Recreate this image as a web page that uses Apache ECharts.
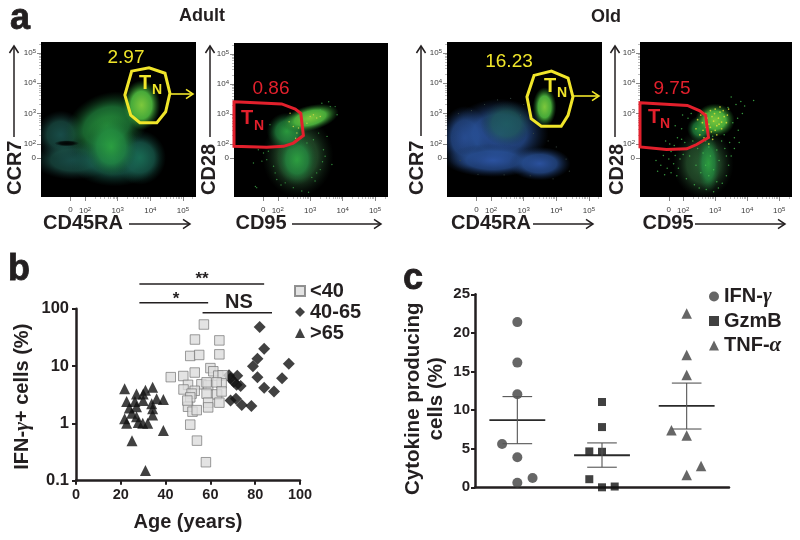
<!DOCTYPE html>
<html><head><meta charset="utf-8">
<style>html,body{margin:0;padding:0;background:#fff}#c{width:800px;height:540px}</style>
<script src="https://cdn.jsdelivr.net/npm/echarts@6/dist/echarts.min.js"></script>
</head><body><div id="c"></div>
<script>
// ---- panel a: flow plots, values in log10 display units (x, y, spreadX, spreadY, level, angle)
const flowMin = [0.65, 0.25], flowMax = [5.4, 5.36];
const flowTicks = [2, 3, 4, 5];
const zeroX = 1.55, zeroY = 1.54;
const cloudsA1 = [
 [1.25,2.3,0.75,0.8,0.45,0],[1.64,1.47,1.25,0.65,0.45,0],[2.9,1.5,1.4,0.9,0.6,0],[3.68,1.55,0.8,0.9,0.6,0],
 [2.66,2.6,1.35,1.05,0.85,25],[2.8,1.9,0.8,1.0,0.7,0],[3.73,3.28,0.58,0.82,1,0]];
const darkA1 = [[1.44,2.02,0.38,0.1,0,0]];
const cloudsA2 = [[2.62,1.6,1.1,1.35,0.3,0],[2.59,1.49,0.62,0.85,0.75,0],[2.28,2.43,0.62,0.62,0.85,0],[3.0,2.87,0.9,0.42,1,14]];
const cloudsA3 = [[1.2,2.2,0.75,1.05,0.2,0],[2.26,2.34,1.5,1.15,0.22,0],[2.06,1.46,1.5,0.55,0.2,0],[3.49,1.35,0.95,0.55,0.2,0],[2.47,2.67,0.8,0.75,0.5,0],[3.64,3.22,0.36,0.65,1,0]];
const cloudsA4 = [[2.63,1.35,0.95,1.15,0.3,0],[2.79,1.35,0.36,0.95,0.8,0],[2.52,2.5,0.4,0.42,0.85,0],[2.99,2.78,0.62,0.55,1,0]];
const gateA1 = [[3.43,4.40],[3.96,4.51],[4.45,4.33],[4.60,3.67],[4.47,3.06],[4.20,2.70],[3.68,2.70],[3.40,2.95],[3.22,3.61]];
const gateA2 = [[0.65,3.41],[2.12,3.34],[2.54,3.17],[2.71,3.03],[2.79,2.29],[2.48,2.04],[2.18,1.93],[1.66,1.90],[0.65,1.93]];
const gateA3 = [[3.32,4.26],[3.85,4.40],[4.36,4.17],[4.51,3.55],[4.36,2.94],[4.15,2.58],[3.54,2.58],[3.23,2.83],[3.10,3.55]];
const gateA4 = [[0.65,3.36],[2.13,3.27],[2.52,3.09],[2.70,2.94],[2.79,2.21],[2.42,1.98],[2.11,1.84],[1.48,1.82],[0.65,1.90]];
const specksGreenA2 = [[1.25,1.38],[1.35,0.56],[1.40,1.82],[1.56,1.71],[1.71,1.77],[1.66,1.49],[1.51,1.44],[1.97,0.83],[2.23,0.72],[2.48,0.56],[2.74,0.45],[2.95,0.41],[3.15,0.78],[3.31,1.16],[3.46,1.60],[3.67,1.33],[3.41,1.82],[3.10,2.15],[2.90,2.04],[3.31,3.14],[3.62,3.25],[3.77,3.25],[3.83,2.98],[3.57,3.41],[3.36,3.36],[1.76,2.65],[1.92,1.05],[1.87,1.27],[3.2,1.05],[3.26,2.37],[3.52,2.26],[1.31,0.6],[2.1,0.65],[3.05,0.9],[3.38,1.42]];
const specksYellowA2 = [[3.0,2.92],[3.2,2.87],[2.74,2.81],[2.48,2.59],[2.38,3.03],[2.59,2.37],[2.79,2.54],[3.1,2.98],[3.31,2.92],[2.64,2.54],[2.9,2.7],[2.55,2.2],[2.35,2.75]];
const specksGreenA4 = [[1.2,1.1],[1.3,1.3],[1.15,1.45],[1.42,0.98],[1.5,1.2],[1.38,1.62],[1.55,1.5],[1.62,1.05],[1.7,1.35],[1.48,1.8],[1.62,1.75],[1.75,1.62],[1.85,1.2],[1.9,1.5],[1.58,2.0],[1.72,1.95],[1.88,1.82],[1.8,0.95],[2.0,1.65],[1.45,2.1],[1.82,2.2],[1.95,2.15],[2.05,2.05],[1.95,2.5],[1.75,2.6],[1.98,2.95],[2.15,2.85],[2.25,3.0],[2.1,0.85],[2.35,0.65],[2.5,0.55],[2.72,0.5],[2.95,0.42],[3.1,0.55],[3.22,0.7],[3.35,0.95],[3.42,1.3],[3.5,1.6],[3.3,1.85],[3.45,2.05],[3.6,2.2],[3.72,2.45],[3.55,2.7],[3.7,2.85],[3.85,3.0],[3.92,3.25],[3.65,3.3],[3.5,3.55],[3.8,3.4],[4.2,3.43],[3.4,3.2],[2.8,1.9],[2.7,2.1],[2.92,2.25],[2.85,1.6],[2.7,1.3],[2.95,1.15],[2.8,0.95],[2.62,1.7],[3.05,1.8],[3.12,1.45],[3.2,2.1],[3.28,2.3],[2.55,1.05],[2.4,1.3],[2.45,1.85],[2.3,2.1],[2.2,1.6],[3.05,0.75],[3.6,1.85],[3.35,1.6],[3.75,2.05]];
const specksYellowA4 = [[2.55,2.95],[2.7,3.0],[2.85,3.1],[3.0,3.15],[3.15,3.05],[3.28,2.9],[3.35,2.7],[3.2,2.5],[3.05,2.3],[2.88,2.4],[2.72,2.55],[2.6,2.7],[2.45,2.8],[2.4,2.5],[2.52,2.3],[2.65,2.2],[2.8,2.65],[2.95,2.75],[3.1,2.85],[3.2,2.72],[3.05,2.6],[2.9,2.9],[3.25,3.1],[3.38,2.95],[2.98,3.0],[3.12,2.65],[2.75,2.85],[2.85,2.55],[3.0,2.45],[2.62,2.45],[2.92,2.15],[2.8,2.0],[3.42,3.15],[3.15,3.22]];
const specksGreyA3 = [[1.0,3.0],[1.4,3.1],[1.8,3.3],[2.2,3.45],[2.6,3.5],[3.0,3.3],[2.9,2.95],[3.3,2.35],[3.75,2.1],[4.0,1.9],[4.3,1.5],[4.4,1.1],[3.9,0.85],[3.2,0.95],[2.4,0.98],[1.6,1.0],[1.05,1.45]];
const labelsAdultOld = ['Adult','Old'];

// ---- panel b
const youngAges = [57.1,53.1,64,51,55,64,53,42.3,47.9,60,61.3,63.5,65.5,50,48,56,59,58.3,65,62.8,53,51.6,51,58.3,63,65,59,64,50,49.7,52,53.9,59,51,54,58];
const youngVals = [53,29,28,15,15.6,16,7.7,6.4,6.7,9.2,8.1,6.8,6.9,4.7,3.9,4.8,4.6,5.2,5,5.2,3.7,3.3,2.84,3.3,3.2,3.6,2.3,2.3,1.95,2.5,1.6,1.7,1.9,0.95,0.5,0.21];
const midAges = [82,84,81,79,95,68.3,69,72,70.4,71.7,73.5,81,92,84,88.4,69,71.4,74,78.3];
const midVals = [48,20,13.4,9.9,11,6.9,6.1,6.8,5.3,4.7,4.5,6.4,6.1,4.2,3.6,2.5,2.7,2.1,2];
const oldAges = [21.7,22.6,27,31,34.2,23.8,26.3,30,30,36,39,33.8,27,34.2,21.7,24.9,27,22.6,27.8,29.8,32,34.2,39,25,31];
const oldVals = [4,2.4,3.25,3.8,4.25,1.85,2.4,2.5,3.25,2.7,2.6,2.2,1.95,1.8,1.2,1.5,1.3,1,1.04,1,1,1.4,0.75,0.5,0.15];
const sigDouble = [[28.3,269],[84,269]];
const sigSingle = [[28.3,127],[59,127]];
const sigNS = [[56.5,85],[87.5,85]];

// ---- panel c
const ifnX = [0.5,0.5,0.5,0.32,0.5,0.5,0.68], ifnY = [21.4,16.15,12.05,5.6,3.9,0.6,1.2];
const gzmX = [1.5,1.5,1.35,1.5,1.35,1.5,1.65], gzmY = [11.05,7.8,4.65,4.6,1.05,0,0.1];
const tnfX = [2.5,2.5,2.5,2.32,2.5,2.67,2.5], tnfY = [22.5,17.15,14.55,7.4,6.7,2.75,1.6];
const groupCentres = [0.5,1.5,2.5];
const groupMeans = [8.7,4.15,10.55];
const semLow = [5.65,2.6,7.55];
const semHigh = [11.75,5.75,13.5];

// ---- styles
const INK='#231f20', YEL='#f0e52a', RED='#e2202c', FONT='"Liberation Sans",Arial,sans-serif';
const zip=(a,b)=>a.map((v,i)=>[v,b[i]]);
const gridsA=[{left:41,top:42,width:155,height:155},{left:234,top:43,width:154,height:154},{left:447,top:42,width:155,height:155},{left:640,top:42,width:152,height:155}];
const minorOffsets=[0.3,0.48,0.6,0.7,0.78,0.85,0.9,0.95];
const minorVals=[1,2,3,4,5].flatMap(d=>minorOffsets.map(o=>+(d+o).toFixed(2))).filter(v=>v>2&&v<5.35);
const supFmt=z=>v=>Math.abs(v-z)<0.01?'0':'10{s|'+v+'}';
function mainAxis(i,isX){const z=isX?zeroX:zeroY;const vals=[z,...flowTicks];return {type:'value',gridIndex:i,position:isX?'bottom':'left',min:flowMin[isX?0:1],max:flowMax[isX?0:1],
  axisLine:{show:false},splitLine:{show:false},
  axisTick:{show:true,length:4,customValues:vals,lineStyle:{color:'#555',width:0.7}},
  axisLabel:{show:true,customValues:vals,hideOverlap:false,color:'#3a3a3a',fontFamily:FONT,fontSize:8,margin:isX?9:5,formatter:supFmt(z),
    rich:{s:{fontSize:6,color:'#3a3a3a',fontFamily:FONT,verticalAlign:'top',padding:[0,0,4,0]}}}};}
function minorAxis(i,isX){return {type:'value',gridIndex:i,position:isX?'bottom':'left',min:flowMin[isX?0:1],max:flowMax[isX?0:1],axisLine:{show:false},splitLine:{show:false},axisLabel:{show:false},
  axisTick:{show:true,length:2,customValues:minorVals,lineStyle:{color:'#777',width:0.5}}};}

function cloudColor(l){ // level: 0 black; low blue, mid teal/green, high bright green
  if(l===0) return ['rgba(0,0,0,0.95)','rgba(0,0,0,0.8)','rgba(0,0,0,0)'];
  if(l<=0.25) return ['rgba(45,85,165,0.95)','rgba(40,80,150,0.75)','rgba(25,50,90,0)'];
  if(l<=0.35) return ['rgba(50,110,60,0.85)','rgba(42,90,50,0.7)','rgba(20,40,25,0)'];
  if(l<=0.5) return ['rgba(30,95,90,0.8)','rgba(30,90,80,0.65)','rgba(20,50,50,0)'];
  if(l<=0.65) return ['rgba(25,110,85,0.9)','rgba(25,95,80,0.7)','rgba(15,60,50,0)'];
  if(l<=0.9) return ['rgba(45,165,65,0.9)','rgba(35,140,65,0.7)','rgba(20,80,40,0)'];
  return ['rgba(125,200,60,1)','rgba(75,178,60,0.95)','rgba(30,110,40,0)'];
}
function cloudSeries(i,data){return {type:'custom',xAxisIndex:i,yAxisIndex:i,clip:true,silent:true,data,encode:{x:0,y:1},
  renderItem(p,api){const c=api.coord([api.value(0),api.value(1)]);const s=api.size([api.value(2),api.value(3)]);
    const cs=cloudColor(api.value(4));const ang=api.value(5)*Math.PI/180;
    return {type:'circle',x:c[0],y:c[1],rotation:ang,scaleX:s[0]/100,scaleY:s[1]/100,shape:{cx:0,cy:0,r:100},
      style:{fill:new echarts.graphic.RadialGradient(0.5,0.5,0.5,[{offset:0,color:cs[0]},{offset:0.55,color:cs[1]},{offset:1,color:cs[2]}])}};}};}
function gateSeries(i,pts,color){return {type:'custom',xAxisIndex:i,yAxisIndex:i,clip:false,silent:true,z:5,data:pts,encode:{x:0,y:1},
  renderItem(p,api){if(p.dataIndex!==0)return null;return {type:'polygon',shape:{points:pts.map(q=>api.coord(q))},style:{fill:'none',stroke:color,lineWidth:3,lineJoin:'miter'}};}};}
function speckSeries(i,data,color,size){return {type:'scatter',xAxisIndex:i,yAxisIndex:i,silent:true,symbol:'circle',symbolSize:size,data,itemStyle:{color}};}
const lineSig=(data)=>({type:'line',xAxisIndex:8,yAxisIndex:8,data,symbol:'none',clip:false,silent:true,lineStyle:{color:INK,width:1.4}});

const meanSeries={type:'custom',xAxisIndex:9,yAxisIndex:9,clip:false,silent:true,z:4,
  data:groupCentres.map((c,i)=>[c,groupMeans[i],semLow[i],semHigh[i]]),encode:{x:0,y:1},
  renderItem(p,api){const x=api.value(0);const P=(a,b)=>api.coord([a,b]);const line=(a,b,w,col)=>({type:'line',shape:{x1:a[0],y1:a[1],x2:b[0],y2:b[1]},style:{stroke:col,lineWidth:w}});
    const m=api.value(1),lo=api.value(2),hi=api.value(3);
    return {type:'group',children:[
      line(P(x-0.33,m),P(x+0.33,m),1.8,'#2a2a2a'),
      line(P(x,lo),P(x,hi),1.1,'#555'),
      line(P(x-0.175,lo),P(x+0.175,lo),1.1,'#555'),
      line(P(x-0.175,hi),P(x+0.175,hi),1.1,'#555')]};}};

const boldAxisLabel=(size,extra)=>Object.assign({color:INK,fontFamily:FONT,fontWeight:'bold',fontSize:size},extra||{});

const series=[
 cloudSeries(0,cloudsA1),cloudSeries(0,darkA1),gateSeries(0,gateA1,YEL),
 cloudSeries(1,cloudsA2),speckSeries(1,specksGreenA2,'#3fae4a',1.4),speckSeries(1,specksYellowA2,'#d8d84a',1.5),gateSeries(1,gateA2,RED),
 speckSeries(2,specksGreyA3,'#3d4d46',1.2),cloudSeries(2,cloudsA3),gateSeries(2,gateA3,YEL),
 cloudSeries(3,cloudsA4),speckSeries(3,specksGreenA4,'#45c04f',1.5),speckSeries(3,specksYellowA4,'#e6e436',1.7),gateSeries(3,gateA4,RED),
 {name:'>65',type:'scatter',xAxisIndex:8,yAxisIndex:8,symbol:'triangle',symbolSize:11,data:zip(oldAges,oldVals),itemStyle:{color:'#111'},silent:true},
 {name:'40-65',type:'scatter',xAxisIndex:8,yAxisIndex:8,symbol:'diamond',symbolSize:12,data:zip(midAges,midVals),itemStyle:{color:'#111'},silent:true},
 {name:'<40',type:'scatter',xAxisIndex:8,yAxisIndex:8,symbol:'rect',symbolSize:9.5,data:zip(youngAges,youngVals),itemStyle:{color:'#dcdcdc',borderColor:'#777',borderWidth:0.9},silent:true},
 lineSig(sigDouble),lineSig(sigSingle),lineSig(sigNS),
 {name:'IFN-γ',type:'scatter',xAxisIndex:9,yAxisIndex:9,symbol:'circle',symbolSize:10,clip:false,data:zip(ifnX,ifnY),itemStyle:{color:'#404040'},silent:true},
 {name:'GzmB',type:'scatter',xAxisIndex:9,yAxisIndex:9,symbol:'rect',symbolSize:8,clip:false,data:zip(gzmX,gzmY),itemStyle:{color:'#111'},silent:true},
 {name:'TNF-α',type:'scatter',xAxisIndex:9,yAxisIndex:9,symbol:'triangle',symbolSize:10.5,clip:false,data:zip(tnfX,tnfY),itemStyle:{color:'#404040'},silent:true},
 meanSeries
];

const txt=(x,y,t,size,o)=>({type:'text',x,y,z:50,silent:true,style:Object.assign({text:t,fill:INK,font:'bold '+size+'px '+FONT,textAlign:'center',textVerticalAlign:'middle'},o||{})});
function arrow(x1,y1,x2,y2,color,w,h){const a=Math.atan2(y2-y1,x2-x1),c=Math.cos(a),s=Math.sin(a),hl=h||7,hw=(h||7)*0.65;
  return {type:'group',z:50,silent:true,children:[
    {type:'line',shape:{x1,y1,x2,y2},style:{stroke:color,lineWidth:w}},
    {type:'polyline',shape:{points:[[x2-hl*c+hw*s,y2-hl*s-hw*c],[x2,y2],[x2-hl*c-hw*s,y2-hl*s+hw*c]]},style:{stroke:color,lineWidth:w,fill:'none'}}]};}
const vRot=(x,yBottom,t,size)=>({type:'text',x,y:yBottom,rotation:Math.PI/2,z:50,silent:true,style:{text:t,fill:INK,font:'bold '+size+'px '+FONT,textAlign:'left',textVerticalAlign:'middle'}});
const gateLabel=(tx,ty,nx,ny,col)=>[txt(tx,ty,'T',20,{fill:col}),txt(nx,ny,'N',14,{fill:col})];
const numLabel=(x,y,t,col)=>txt(x,y,t,19,{fill:col,font:'19px '+FONT});
const letter=(x,y,t)=>txt(x,y,t,36,{stroke:INK,lineWidth:0.8});

const graphic=[
 letter(20,19,'a'),letter(19,270,'b'),letter(413,279,'c'),
 txt(202,16,labelsAdultOld[0],18),txt(606,17,labelsAdultOld[1],18),
 vRot(15,195,'CCR7',20),vRot(209,195,'CD28',20),vRot(417,195,'CCR7',20),vRot(617,195,'CD28',20),
 txt(83,223,'CD45RA',20),txt(261,223,'CD95',20),txt(491,223,'CD45RA',20),txt(668,223,'CD95',20),
 arrow(14,137,14,46,INK,1.5),arrow(210,137,210,46,INK,1.5),arrow(421,136,421,46,INK,1.5),arrow(615,137,615,46,INK,1.5),
 arrow(129,224,190,224,INK,1.5),arrow(292,224,381,224,INK,1.5),arrow(533,224,593,224,INK,1.5),arrow(695,224,785,224,INK,1.5),
 arrow(170,94,193,94,YEL,1.6),arrow(573,96,599,96,YEL,1.6),
 numLabel(126,58,'2.97',YEL),numLabel(271,89,'0.86',RED),numLabel(509,62,'16.23',YEL),numLabel(672,89,'9.75',RED),
 ...gateLabel(145,83,157,90,YEL),...gateLabel(247,118,259,126,RED),...gateLabel(550,86,562,93,YEL),...gateLabel(654,117,665,124,RED),
 txt(202,279,'**',17),txt(176,299,'*',17),txt(239,302,'NS',20)
];

const greek={g:{fontFamily:'"Liberation Serif",serif',fontStyle:'italic',fontWeight:'bold',fontSize:21,color:INK}};
const option={
 animation:false,backgroundColor:'#fff',
 grid:[...gridsA.map(g=>({...g,show:true,backgroundColor:'#000',borderWidth:0})),
   {left:76,top:308.7,width:224,height:172},{left:475,top:294.3,width:254,height:193}],
 xAxis:[...[0,1,2,3].map(i=>mainAxis(i,true)),...[0,1,2,3].map(i=>minorAxis(i,true)),
  {type:'value',gridIndex:4,min:0,max:100,interval:20,splitLine:{show:false},
   axisLine:{onZero:false,lineStyle:{color:INK,width:2.5}},axisTick:{length:4,lineStyle:{color:INK,width:2}},axisLabel:boldAxisLabel(14.5,{margin:7}),
   name:'Age (years)',nameLocation:'middle',nameGap:32,nameTextStyle:boldAxisLabel(20)},
  {type:'value',gridIndex:5,min:0,max:3,splitLine:{show:false},axisLine:{onZero:false,lineStyle:{color:INK,width:2.5}},axisTick:{show:false},axisLabel:{show:false}}],
 yAxis:[...[0,1,2,3].map(i=>mainAxis(i,false)),...[0,1,2,3].map(i=>minorAxis(i,false)),
  {type:'log',gridIndex:4,min:0.1,max:100,logBase:10,splitLine:{show:false},minorTick:{show:false},
   axisLine:{onZero:false,lineStyle:{color:INK,width:2.5}},axisTick:{length:4,lineStyle:{color:INK,width:2}},axisLabel:boldAxisLabel(16.5,{margin:7}),
   name:'IFN-{g|γ}+ cells (%)',nameLocation:'middle',nameGap:43,nameTextStyle:boldAxisLabel(20,{padding:[0,4,0,0],rich:{g:greek.g}})},
  {type:'value',gridIndex:5,min:0,max:25,interval:5,splitLine:{show:false},
   axisLine:{onZero:false,lineStyle:{color:INK,width:2.5}},axisTick:{length:4,lineStyle:{color:INK,width:2}},axisLabel:boldAxisLabel(15,{margin:5}),
   name:'Cytokine producing\ncells (%)',nameLocation:'middle',nameGap:27,nameTextStyle:boldAxisLabel(20.5,{lineHeight:23,padding:[0,16,0,0]})}],
 legend:[
  {data:['<40','40-65','>65'],orient:'vertical',left:294,top:281,padding:0,itemWidth:10,itemHeight:10,itemGap:1,textStyle:boldAxisLabel(20),selectedMode:false},
  {data:['IFN-γ','GzmB','TNF-α'],orient:'vertical',left:709,top:286,padding:0,itemWidth:10,itemHeight:10,itemGap:4,textStyle:boldAxisLabel(20,{rich:{g:greek.g}}),selectedMode:false,
   formatter:n=>n.replace('γ','{g|γ}').replace('α','{g|α}')}],
 series,graphic
};
echarts.init(document.getElementById('c'),null,{renderer:'canvas'}).setOption(option);
</script></body></html>
